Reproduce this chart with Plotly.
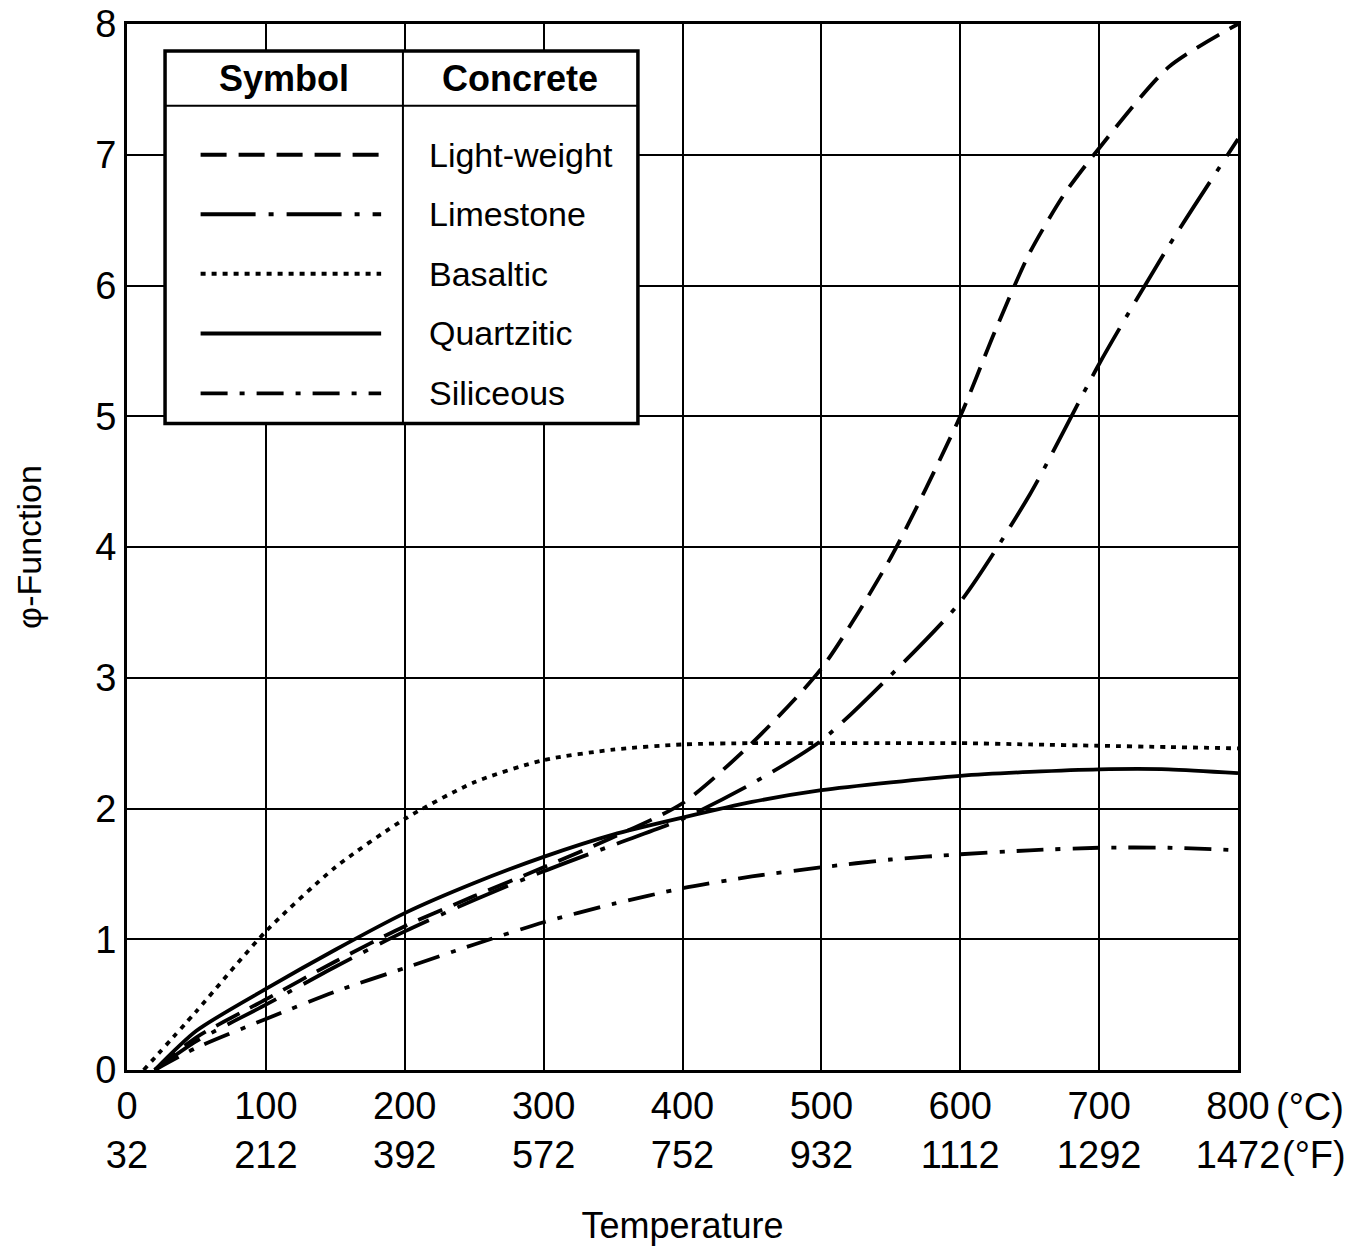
import plotly.graph_objects as go

# ---- data ----
t_light = [20, 50, 100, 150, 200, 250, 300, 350, 400, 450, 500, 550, 600, 625, 650, 675, 700, 750, 800]
light = [0, 0.25, 0.54, 0.83, 1.1, 1.33, 1.55, 1.78, 2.04, 2.5, 3.07, 3.92, 5.0, 5.65, 6.25, 6.7, 7.05, 7.67, 8.0]

t_lime = [20, 50, 100, 150, 200, 250, 300, 350, 400, 450, 500, 550, 600, 650, 700, 750, 800]
lime = [0, 0.22, 0.5, 0.79, 1.06, 1.3, 1.52, 1.72, 1.92, 2.19, 2.52, 3.02, 3.58, 4.4, 5.4, 6.3, 7.12]

t_basalt = [12, 50, 100, 150, 200, 250, 300, 350, 400, 450, 500, 550, 600, 650, 700, 750, 800]
basalt = [0, 0.45, 1.06, 1.55, 1.92, 2.2, 2.37, 2.45, 2.49, 2.5, 2.5, 2.5, 2.5, 2.49, 2.48, 2.47, 2.46]

t_quartz = [20, 50, 100, 150, 200, 250, 300, 350, 400, 450, 500, 550, 600, 650, 700, 750, 800]
quartz = [0, 0.3, 0.62, 0.92, 1.2, 1.43, 1.63, 1.8, 1.93, 2.05, 2.14, 2.2, 2.25, 2.28, 2.3, 2.3, 2.27]

t_silic = [20, 50, 100, 150, 200, 250, 300, 350, 400, 450, 500, 550, 600, 650, 700, 750, 800]
silic = [0, 0.17, 0.39, 0.6, 0.78, 0.96, 1.13, 1.27, 1.39, 1.48, 1.55, 1.61, 1.65, 1.68, 1.7, 1.7, 1.68]

x_ticks_c = [0, 100, 200, 300, 400, 500, 600, 700, 800]
x_ticks_f = [32, 212, 392, 572, 752, 932, 1112, 1292, 1472]
y_ticks = [0, 1, 2, 3, 4, 5, 6, 7, 8]

names = ["Light-weight", "Limestone", "Basaltic", "Quartzitic", "Siliceous"]
dashes = ["26px,12px", "55px,13px,5px,13px", "5px,6px", "solid", "27px,12px,5px,12px"]

FONT = "Liberation Sans, Arial, sans-serif"
LW = 3.8

fig = go.Figure()
series = [(t_light, light), (t_lime, lime), (t_basalt, basalt), (t_quartz, quartz), (t_silic, silic)]
for (tx, ty), nm, d in zip(series, names, dashes):
    fig.add_trace(go.Scatter(x=tx, y=ty, mode="lines", name=nm,
                             line=dict(color="black", width=LW, dash=d, shape="spline", smoothing=0.7),
                             showlegend=False))

ticktext = [f"{c}<br>{f}" for c, f in zip(x_ticks_c, x_ticks_f)]

fig.update_xaxes(range=[0, 800], tickvals=x_ticks_c, ticktext=ticktext,
                 showgrid=True, gridcolor="black", gridwidth=1.5,
                 showline=True, linecolor="black", linewidth=3, mirror=True,
                 ticks="", zeroline=False, ticklabeloverflow="allow", automargin=False,
                 tickfont=dict(family=FONT, size=38, color="black"),
                 title=dict(text="Temperature", font=dict(family=FONT, size=36, color="black"), standoff=38))
fig.update_yaxes(range=[0, 8], tickvals=y_ticks,
                 showgrid=True, gridcolor="black", gridwidth=1.5,
                 showline=True, linecolor="black", linewidth=3, mirror=True,
                 ticks="", zeroline=False, ticklabeloverflow="allow", automargin=False,
                 tickfont=dict(family=FONT, size=38, color="black"),
                 title=dict(text="φ-Function", font=dict(family=FONT, size=34, color="black"), standoff=44))

# units annotations
fig.add_annotation(xref="paper", yref="paper", x=1.0, y=0, xanchor="left", yanchor="top",
                   xshift=36, yshift=-14, text="(°C)", showarrow=False,
                   font=dict(family=FONT, size=38, color="black"))
fig.add_annotation(xref="paper", yref="paper", x=1.0, y=0, xanchor="left", yanchor="top",
                   xshift=42, yshift=-62, text="(°F)", showarrow=False,
                   font=dict(family=FONT, size=38, color="black"))

# legend table (data coordinates)
x0, x1, xm = 27.4, 367.9, 198.7
y0, y1, yh = 4.945, 7.794, 7.375
fig.add_shape(type="rect", x0=x0, x1=x1, y0=y0, y1=y1, xref="x", yref="y",
              line=dict(color="black", width=3.5), fillcolor="white", layer="above")
fig.add_shape(type="line", x0=x0, x1=x1, y0=yh, y1=yh, xref="x", yref="y",
              line=dict(color="black", width=2), layer="above")
fig.add_shape(type="line", x0=xm, x1=xm, y0=y0, y1=y1, xref="x", yref="y",
              line=dict(color="black", width=2), layer="above")
fig.add_annotation(x=(x0 + xm) / 2, y=(y1 + yh) / 2, xref="x", yref="y", showarrow=False,
                   text="<b>Symbol</b>", font=dict(family=FONT, size=36, color="black"))
fig.add_annotation(x=(xm + x1) / 2, y=(y1 + yh) / 2, xref="x", yref="y", showarrow=False,
                   text="<b>Concrete</b>", font=dict(family=FONT, size=36, color="black"))

row_y = [7.0, 6.545, 6.09, 5.633, 5.175]
for nm, d, ry in zip(names, dashes, row_y):
    fig.add_shape(type="line", x0=53, x1=183, y0=ry, y1=ry, xref="x", yref="y",
                  line=dict(color="black", width=LW, dash=d), layer="above")
    fig.add_annotation(x=216, y=ry, xref="x", yref="y", xanchor="left", showarrow=False,
                       text=nm, font=dict(family=FONT, size=34, color="black"))

fig.update_layout(width=1363, height=1259,
                  margin=dict(l=127, r=125, t=24, b=189),
                  paper_bgcolor="white", plot_bgcolor="white",
                  font=dict(family=FONT, color="black"))

fig.write_html("out.html")
